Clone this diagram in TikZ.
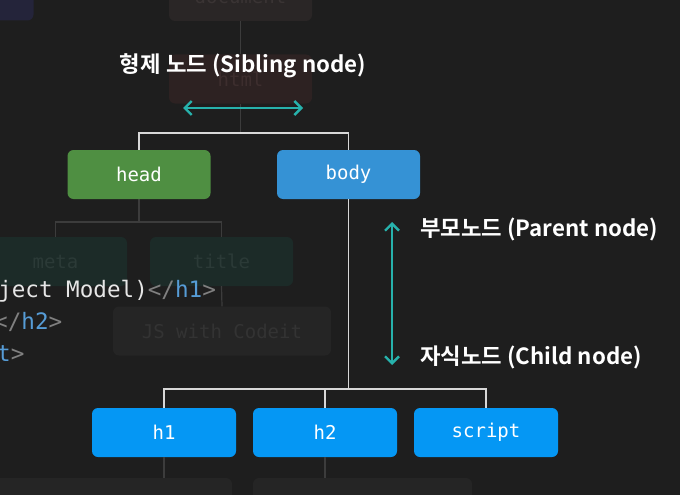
\documentclass[tikz,border=0pt]{standalone}
\usepackage{fontspec}
\newfontfamily\kfont{Noto Sans CJK KR}[BoldFont={* Bold}]
\newfontfamily\mono{DejaVu Sans Mono}
\usetikzlibrary{arrows.meta}
\definecolor{bg}{HTML}{1E1E1E}
\definecolor{headc}{HTML}{4F8F42}
\definecolor{bodyc}{HTML}{3592D5}
\definecolor{hc}{HTML}{0597F4}
\definecolor{teal}{HTML}{27B2AC}
\definecolor{treeline}{HTML}{D8D8D8}
\definecolor{faintline}{HTML}{3C3C3C}
\definecolor{docc}{HTML}{2A2626}
\definecolor{doct}{HTML}{3A3434}
\definecolor{htmlc}{HTML}{2D2222}
\definecolor{htmlt}{HTML}{3D2E2E}
\definecolor{metac}{HTML}{1C2B28}
\definecolor{metat}{HTML}{2B3A37}
\definecolor{jsc}{HTML}{252525}
\definecolor{jst}{HTML}{333333}
\definecolor{purc}{HTML}{24243A}
\definecolor{codew}{HTML}{E6E6E6}
\definecolor{codeg}{HTML}{808080}
\definecolor{codeb}{HTML}{569CD6}
\tikzset{
  x=1pt, y=-1pt,
  tagbox/.style={rectangle, rounded corners=6pt, minimum width=143pt, minimum height=49pt,
    inner sep=0pt, font=\mono\fontsize{19}{19}\selectfont, text=white},
  fadebox/.style={tagbox, text=#1},
  tree/.style={draw=treeline, line width=1.3pt},
  faint/.style={draw=faintline, line width=1.2pt},
  tarrow/.style={draw=teal, line width=2.4pt, {Straight Barb[length=7pt,width=14pt,line width=2.4pt]}-{Straight Barb[length=7pt,width=14pt,line width=2.4pt]}},
  lbl/.style={font=\kfont\bfseries\fontsize{22.3}{22.3}\selectfont, text=white, inner sep=0pt},
  code/.style={font=\mono\fontsize{22.6}{22.6}\selectfont, inner sep=0pt, anchor=west}
}
\begin{document}
\begin{tikzpicture}
\useasboundingbox (0,0) rectangle (680,495);
\fill[bg] (0,0) rectangle (680,495);
\clip (0,0) rectangle (680,495);
% faded background nodes
\node[fadebox=doct, fill=docc] (doc) at (240.5,-3.5) {document};
\node[fadebox=purc, fill=purc] (tl) at (-38,-4) {};
\node[fadebox=htmlt, fill=htmlc] (html) at (240.5,79) {html};
\node[fadebox=metat, fill=metac] (meta) at (55.5,261.5) {meta};
\node[fadebox=metat, fill=metac] (title) at (221.5,261.5) {title};
\node[fadebox=jst, fill=jsc, minimum width=218pt] (js) at (222,331) {JS with Codeit};
\node[fadebox=jsc, fill=jsc, minimum width=242pt] (b1) at (111,502.5) {};
\node[fadebox=jsc, fill=jsc, minimum width=219pt] (b2) at (362.5,502.5) {};
% faint connectors
\coordinate (j0) at (240.5,133);
\coordinate (j1) at (139,222);
\draw[faint] (doc.south) -- (html.north);
\draw[faint] (html.south) -- (j0);
\draw[faint] (139,199) -- (j1);
\draw[faint] (meta.north) |- (j1) -| (title.north);
\draw[faint] (title.south) -- (js.north);
% main nodes
\node[tagbox, fill=headc] (head) at (139,174.5) {head};
\node[tagbox, fill=bodyc] (body) at (348.5,174.5) {body};
\node[tagbox, fill=hc, minimum width=144pt] (h1) at (164,432.5) {h1};
\node[tagbox, fill=hc, minimum width=144pt] (h2) at (325,432.5) {h2};
\node[tagbox, fill=hc, minimum width=144pt] (script) at (486,432.5) {script};
\draw[faint] (h1.south) -- (h1.south |- b1.north);
\draw[faint] (h2.south) -- (h2.south |- b2.north);
% tree connectors
\coordinate (j2) at (348.5,389);
\draw[tree] (head.north) |- (j0) -| (body.north);
\draw[tree] (body.south) -- (j2);
\draw[tree] (h1.north) |- (j2) -| (script.north);
\draw[tree] (h2.north) -- (h2.north |- j2);
% code text
\node[code] (c1) at (-2,291) {\textcolor{codew}{ject Model)}\textcolor{codeg}{</}\textcolor{codeb}{h1}\textcolor{codeg}{>}};
\node[code] (c2) at (-6,322) {\textcolor{codeg}{</}\textcolor{codeb}{h2}\textcolor{codeg}{>}};
\node[code] (c3) at (-3,354) {\textcolor{codeb}{t}\textcolor{codeg}{>}};
% labels
\node[lbl] (sib) at (243,66) {형제 노드 (Sibling node)};
\coordinate (sa) at (183,108);
\coordinate (sb) at (303,108);
\draw[tarrow] (sa) -- (sb);
\coordinate (pa) at (392,222);
\coordinate (pb) at (392,365);
\draw[tarrow] (pa) -- (pb);
\node[lbl, anchor=west] (par) at (420,229) {부모노드 (Parent node)};
\node[lbl, anchor=west] (chi) at (420,357) {자식노드 (Child node)};
\end{tikzpicture}
\end{document}
